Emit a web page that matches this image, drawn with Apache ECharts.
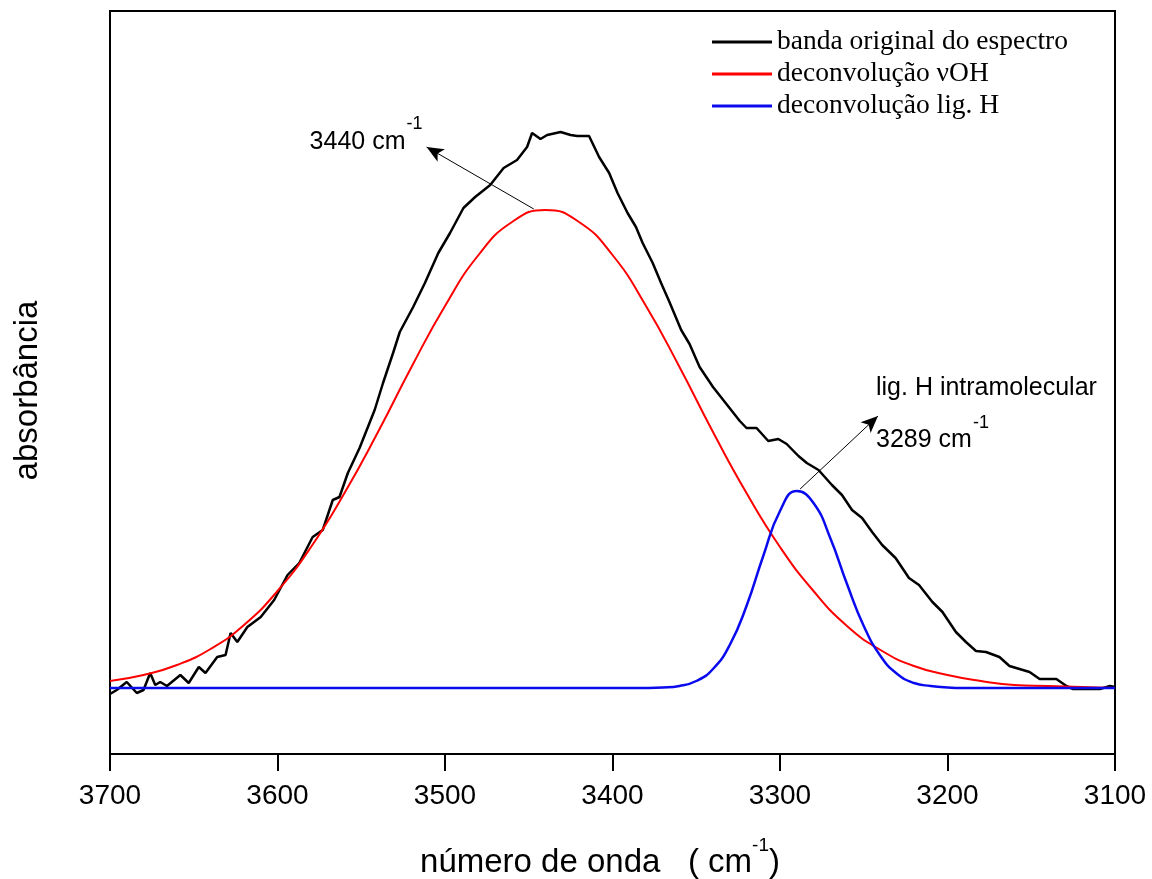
<!DOCTYPE html>
<html>
<head>
<meta charset="utf-8">
<script src="https://cdn.jsdelivr.net/npm/echarts@6.0.0/dist/echarts.min.js"></script>
<style>
html,body{margin:0;padding:0;background:#fff;}
#chart{width:1152px;height:879px;}
</style>
</head>
<body>
<div id="chart"></div>
<script>
// ---- data (wavenumber in cm-1, absorbance in arbitrary units) ----
const bandWave = [3700,3696,3690,3684,3680,3676,3673,3670,3666,3658,3653,3647,3643,3636,3631,3628,3624,3618,3610,3602,3594,3587,3579,3573,3567,3563,3558,3551,3542,3537,3531,3527,3519,3512,3504,3497,3489,3482,3473,3465,3457,3451,3448,3443,3439,3431,3425,3421,3414,3408,3402,3397,3391,3386,3382,3376,3371,3366,3359,3354,3348,3340,3332,3324,3320,3314,3307,3301,3296,3289,3284,3277,3269,3263,3257,3251,3245,3239,3231,3223,3217,3209,3203,3195,3189,3183,3177,3169,3163,3157,3151,3145,3135,3129,3125,3109,3103,3100];
const bandAbs  = [-0.006,-0.002,0.006,-0.005,-0.002,0.015,0.003,0.006,0.002,0.013,0.005,0.021,0.015,0.031,0.033,0.055,0.046,0.061,0.071,0.088,0.113,0.125,0.151,0.158,0.188,0.191,0.215,0.240,0.278,0.305,0.335,0.356,0.381,0.405,0.435,0.455,0.480,0.491,0.503,0.520,0.528,0.541,0.555,0.549,0.553,0.556,0.553,0.552,0.552,0.531,0.515,0.495,0.475,0.461,0.445,0.425,0.405,0.386,0.358,0.344,0.321,0.301,0.284,0.267,0.260,0.260,0.247,0.249,0.244,0.232,0.225,0.218,0.203,0.193,0.178,0.170,0.156,0.143,0.130,0.110,0.103,0.086,0.076,0.056,0.046,0.037,0.036,0.031,0.022,0.019,0.016,0.009,0.009,0.002,-0.001,-0.001,0.002,0.001];

const ohWave = [3700,3680,3660,3640,3620,3600,3580,3560,3540,3520,3500,3480,3460,3440,3420,3400,3380,3360,3340,3320,3300,3280,3260,3240,3220,3200,3180,3160,3140,3120,3100];
const ohAbs  = [0.007,0.013,0.023,0.039,0.063,0.097,0.141,0.195,0.256,0.321,0.382,0.433,0.466,0.478,0.466,0.433,0.382,0.321,0.256,0.195,0.141,0.097,0.062,0.038,0.022,0.013,0.007,0.003,0.002,0.001,0.000];

const hbWave = [3700,3600,3500,3400,3380,3370,3360,3350,3340,3330,3320,3310,3300,3290,3280,3270,3260,3250,3240,3230,3220,3210,3200,3190,3150,3100];
const hbAbs  = [0,0,0,0,0.0001,0.0005,0.002,0.007,0.019,0.043,0.082,0.132,0.177,0.197,0.185,0.150,0.104,0.062,0.032,0.014,0.005,0.002,0.0005,0,0,0];

const seriesNames = ['banda original do espectro','deconvolução νOH','deconvolução lig. H'];
const xTickMin = 3100, xTickMax = 3700, xTickStep = 100;

// annotation anchors (data coords): arrow start -> arrow end
const arrowOH = [[3447, 0.479],[3511, 0.541]];
const arrowHB = [[3288, 0.199],[3241.5, 0.272]];

function zip(a,b){ return a.map((v,i)=>[v,b[i]]); }

const chart = echarts.init(document.getElementById('chart'), null, {renderer:'canvas'});
const SANS = 'Liberation Sans, Arial, sans-serif';
const SERIF = 'Liberation Serif, Times New Roman, serif';

const arrowLine = (pts) => ({
  silent: true,
  symbol: ['none','arrow'],
  symbolSize: [11, 17],
  lineStyle: {color:'#000', width:1, type:'solid'},
  label: {show:false},
  emphasis: {disabled:true},
  data: [[{coord: pts[0]},{coord: pts[1]}]]
});

chart.setOption({
  animation: false,
  backgroundColor: '#fff',
  grid: {left:110, right:37, top:11, bottom:125, show:true, borderColor:'#000', borderWidth:2,
         containLabel:false, outerBoundsMode:'none'},
  legend: {
    orient: 'vertical', left: 707, top: 23,
    itemWidth: 60, itemHeight: 3, itemGap: 4,
    icon: 'rect',
    data: seriesNames,
    textStyle: {fontFamily: SERIF, fontSize: 27.5, color:'#000'}
  },
  xAxis: {
    type:'value', inverse:true, min:xTickMin, max:xTickMax, interval:xTickStep,
    axisLine:{show:true, onZero:false, lineStyle:{color:'#000', width:2}},
    axisTick:{show:true, inside:false, length:17, lineStyle:{color:'#000', width:2}},
    axisLabel:{show:true, margin:28, fontFamily:SANS, fontSize:28, color:'#000', formatter: v => String(v)},
    splitLine:{show:false},
    name:'{a|número de onda   ( cm}{s|-1}{a|)}',
    nameLocation:'middle', nameGap:82,
    nameTextStyle:{padding:[0,25,0,0], rich:{
      a:{fontFamily:SANS, fontSize:33, color:'#000', lineHeight:43, verticalAlign:'bottom'},
      s:{fontFamily:SANS, fontSize:19, color:'#000', lineHeight:20, verticalAlign:'top'}
    }}
  },
  yAxis: {
    type:'value', min:-0.066, max:0.677,
    axisLine:{show:true, onZero:false, lineStyle:{color:'#000', width:2}},
    axisTick:{show:false}, axisLabel:{show:false}, splitLine:{show:false},
    name:'absorbância', nameLocation:'middle', nameGap:66,
    nameTextStyle:{fontFamily:SANS, fontSize:33, color:'#000', padding:[0,16,0,0]}
  },
  series: [
    {name:seriesNames[0], type:'line', data:zip(bandWave,bandAbs), showSymbol:false, smooth:false,
     lineStyle:{color:'#000', width:2.5}, itemStyle:{color:'#000'}, z:2,
     markLine: arrowLine(arrowOH)},
    {name:seriesNames[1], type:'line', data:zip(ohWave,ohAbs), showSymbol:false, smooth:0.5,
     lineStyle:{color:'#ff0000', width:2}, itemStyle:{color:'#ff0000'}, z:3},
    {name:seriesNames[2], type:'line', data:zip(hbWave,hbAbs), showSymbol:false, smooth:0.5,
     lineStyle:{color:'#0a0aee', width:2.5}, itemStyle:{color:'#0a0aee'}, z:4,
     markLine: arrowLine(arrowHB)}
  ]
});

// annotation texts placed relative to the arrow tips (through the chart's own coordinate conversion)
function txt(anchor, dx, dyBaseline, text, size){
  const p = chart.convertToPixel({gridIndex:0}, anchor);
  return {type:'text', silent:true, z:100,
    style:{text:text, x:p[0]+dx, y:p[1]+dyBaseline - 0.33*size, font: size+'px '+SANS, fill:'#000',
           align:'left', verticalAlign:'middle'}};
}
const tipOH = arrowOH[1], tipHB = arrowHB[1];
chart.setOption({graphic: [
  txt(tipOH, -117, 3, '3440 cm', 25),
  txt(tipOH, -20, -17, '-1', 18),
  txt(tipHB, -2, -20, 'lig. H intramolecular', 25),
  txt(tipHB, -2, 32, '3289 cm', 25),
  txt(tipHB, 95, 13, '-1', 18)
]});
</script>
</body>
</html>
